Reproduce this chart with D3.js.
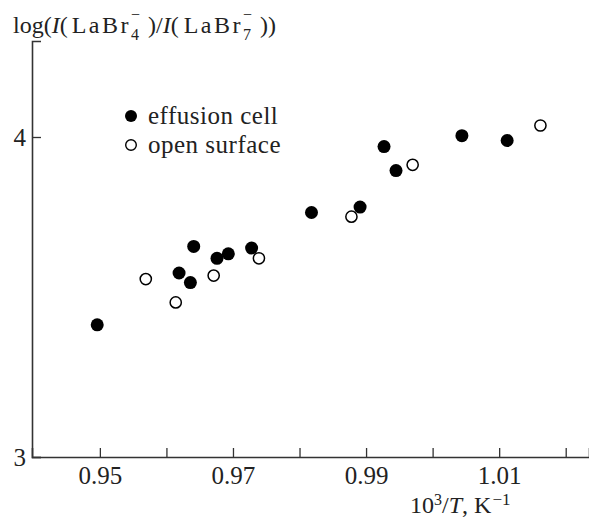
<!DOCTYPE html>
<html>
<head>
<meta charset="utf-8">
<script src="https://cdnjs.cloudflare.com/ajax/libs/d3/7.8.5/d3.min.js"></script>
<style>
body { margin: 0; background: #fff; }
text { font-family: "Liberation Serif", "Times New Roman", serif; fill: #222; }
</style>
</head>
<body>
<script>
// effusion cell (filled) and open surface (open) points: [10^3/T, log ratio]
var cellX = [0.9496, 0.9619, 0.9636, 0.9641, 0.9676, 0.9693, 0.9728, 0.9818, 0.9891, 0.9927, 0.9945, 1.0044, 1.0112];
var cellY = [3.413, 3.575, 3.545, 3.658, 3.621, 3.635, 3.653, 3.764, 3.781, 3.970, 3.895, 4.004, 3.989];
var openX = [0.9569, 0.9614, 0.9671, 0.9739, 0.9878, 0.9970, 1.0162];
var openY = [3.556, 3.483, 3.567, 3.621, 3.751, 3.913, 4.036];
var xTicks = [0.95, 0.96, 0.97, 0.98, 0.99, 1.00, 1.01, 1.02];
var xLabels = ['0.95', '', '0.97', '', '0.99', '', '1.01', ''];
var yTicks = [3, 4];

var width = 589, height = 518;

var svg = d3.select('body')
	.append('svg')
	.attr('width', width)
	.attr('height', height);

var x = d3.scaleLinear().domain([0.9398, 1.0235]).range([32, 589]);
var y = d3.scaleLinear().domain([3, 4.30]).range([457, 41]);

var axisColor = '#333';

// x axis, ticks point up
var xAxis = svg.append('g')
	.attr('transform', 'translate(0,' + y(3) + ')')
	.call(d3.axisBottom(x)
		.tickValues(xTicks)
		.tickSize(-9)
		.tickFormat(function(d, i){ return xLabels[i]; }));
xAxis.select('.domain').attr('stroke', axisColor).attr('stroke-width', 1.6);
xAxis.selectAll('.tick line').attr('stroke', axisColor).attr('stroke-width', 1.3);
xAxis.selectAll('.tick text')
	.attr('y', 27)
	.attr('dy', 0)
	.style('font-family', '"Liberation Serif", serif')
	.style('font-size', '25px')
	.attr('fill', '#222');

// y axis, ticks point right
var yAxis = svg.append('g')
	.attr('transform', 'translate(' + x.range()[0] + ',0)')
	.call(d3.axisLeft(y)
		.tickValues(yTicks)
		.tickSize(-9)
		.tickFormat(d3.format('d')));
yAxis.select('.domain').attr('stroke', axisColor).attr('stroke-width', 1.6);
yAxis.selectAll('.tick line').attr('stroke', axisColor).attr('stroke-width', 1.3);
yAxis.selectAll('.tick text')
	.attr('x', -6)
	.attr('dy', '0.32em')
	.style('font-family', '"Liberation Serif", serif')
	.style('font-size', '25px')
	.attr('fill', '#222');

// points
var cell = cellX.map(function(d, i){ return [d, cellY[i]]; });
var open = openX.map(function(d, i){ return [d, openY[i]]; });

svg.selectAll('.cell')
	.data(cell)
	.enter()
	.append('circle')
	.classed('cell', true)
	.attr('cx', function(d){ return x(d[0]); })
	.attr('cy', function(d){ return y(d[1]); })
	.attr('r', 6.5)
	.style('fill', '#000');

svg.selectAll('.open')
	.data(open)
	.enter()
	.append('circle')
	.classed('open', true)
	.attr('cx', function(d){ return x(d[0]); })
	.attr('cy', function(d){ return y(d[1]); })
	.attr('r', 5.6)
	.style('fill', '#fff')
	.style('stroke', '#000')
	.style('stroke-width', 1.5);

// legend
var legend = svg.append('g');
legend.append('circle').attr('cx', 131).attr('cy', 116).attr('r', 6).style('fill', '#000');
legend.append('circle').attr('cx', 131).attr('cy', 145).attr('r', 5.3)
	.style('fill', '#fff').style('stroke', '#000').style('stroke-width', 1.4);
legend.selectAll('.lab')
	.data(['effusion cell', 'open surface'])
	.enter()
	.append('text')
	.attr('x', 148)
	.attr('y', function(d, i){ return 124 + i * 29; })
	.style('font-size', '25px')
	.style('letter-spacing', '0.5px')
	.text(function(d){ return d; });

// y title, flowing tspans
var yt = svg.append('text').attr('x', 13).attr('y', 33).style('font-size', '24px');
yt.append('tspan').text('log(');
yt.append('tspan').style('font-style', 'italic').text('I');
yt.append('tspan').text('(');
yt.append('tspan').attr('dx', 4).style('letter-spacing', '2.5px').text('LaBr');
yt.append('tspan').attr('dy', 7).style('font-size', '16px').text('4');
yt.append('tspan').attr('dx', -8).attr('dy', -20).style('font-size', '16px').text('\u2212');
yt.append('tspan').attr('dx', 8).attr('dy', 13).text(')/');
yt.append('tspan').style('font-style', 'italic').text('I');
yt.append('tspan').text('(');
yt.append('tspan').attr('dx', 5).style('letter-spacing', '2.5px').text('LaBr');
yt.append('tspan').attr('dy', 7).style('font-size', '16px').text('7');
yt.append('tspan').attr('dx', -8).attr('dy', -20).style('font-size', '16px').text('\u2212');
yt.append('tspan').attr('dx', 8).attr('dy', 13).text('))');

// x title
var xt = svg.append('text').attr('x', 410).attr('y', 513).style('font-size', '24px');
xt.append('tspan').text('10');
xt.append('tspan').attr('dy', -8).style('font-size', '16px').text('3');
xt.append('tspan').attr('dy', 8).text('/');
xt.append('tspan').style('font-style', 'italic').text('T');
xt.append('tspan').text(', K');
xt.append('tspan').attr('dx', 1).attr('dy', -8).style('font-size', '17px').text('\u22121');
</script>
</body>
</html>
